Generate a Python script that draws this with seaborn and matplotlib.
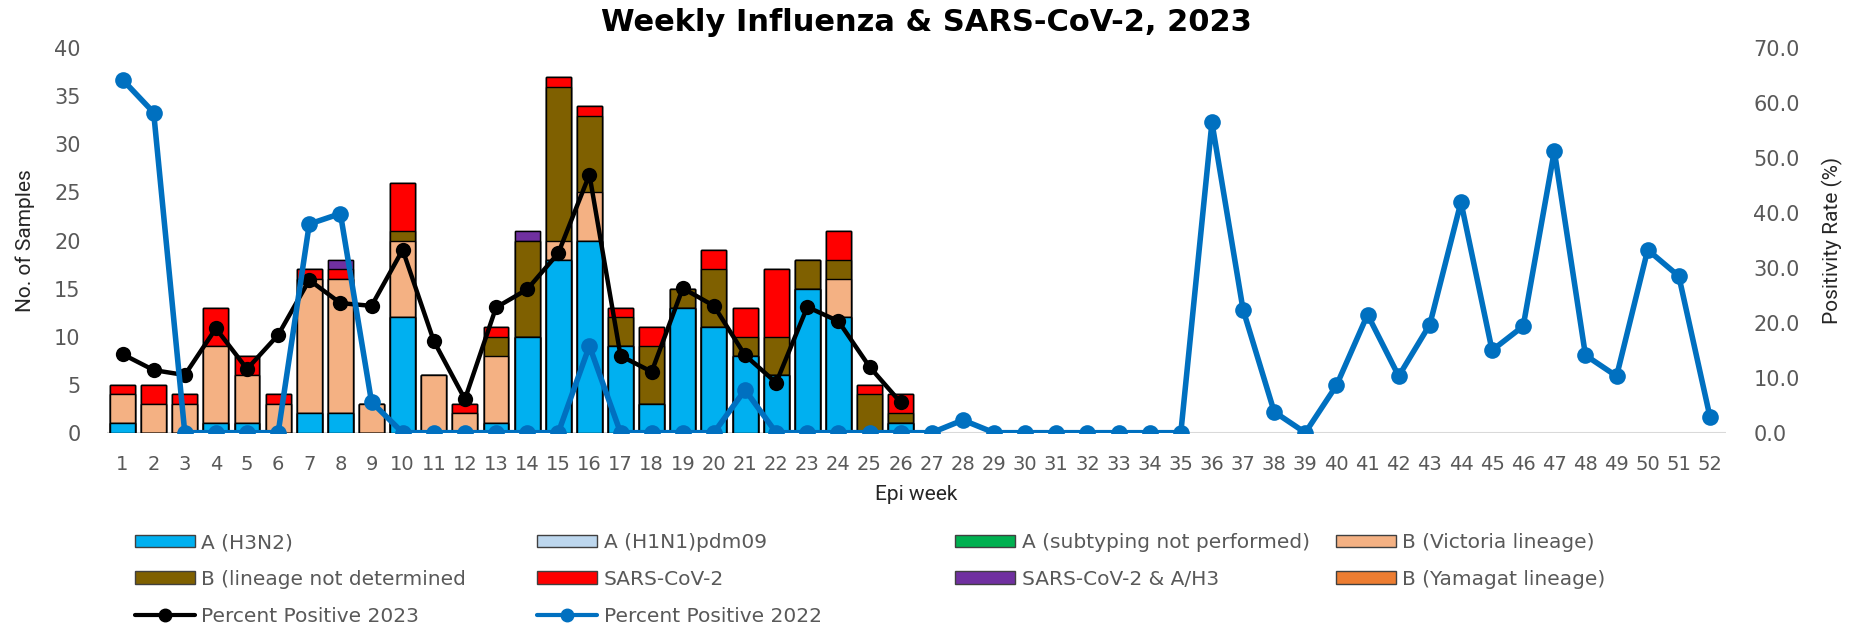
# Weekly influenza & SARS-CoV-2 surveillance, 2023 (stacked bars + positivity lines)
import matplotlib
matplotlib.use('Agg')
import matplotlib.pyplot as plt
from matplotlib.patches import Patch
from matplotlib.lines import Line2D
import pandas as pd
import numpy as np
import seaborn as sns

# epi weeks
weeks = list(range(1, 53))
bar_weeks = list(range(1, 27))

# samples per week (weeks 1-26), bottom to top of the stack
h3n2     = [1, 0, 0, 1, 1, 0, 2, 2, 0, 12, 0, 0, 1, 10, 18, 20, 9, 3, 13, 11, 8, 6, 15, 12, 0, 1]
h1n1     = [0] * 26
a_nosub  = [0] * 26
victoria = [3, 3, 3, 8, 5, 3, 14, 14, 3, 8, 6, 2, 7, 0, 2, 5, 0, 0, 0, 0, 0, 0, 0, 4, 0, 0]
b_undet  = [0, 0, 0, 0, 0, 0, 0, 0, 0, 1, 0, 0, 2, 10, 16, 8, 3, 6, 2, 6, 2, 4, 3, 2, 4, 1]
sars     = [1, 2, 1, 4, 2, 1, 1, 1, 0, 5, 0, 1, 1, 0, 1, 1, 1, 2, 0, 2, 3, 7, 0, 3, 1, 2]
sars_h3  = [0, 0, 0, 0, 0, 0, 0, 1, 0, 0, 0, 0, 0, 1, 0, 0, 0, 0, 0, 0, 0, 0, 0, 0, 0, 0]
yamagata = [0] * 26

# percent positive
pct_2023 = [14.3, 11.4, 10.5, 19.0, 11.6, 17.8, 27.8, 23.6, 23.1, 33.3, 16.7, 6.1, 22.8,
            26.1, 32.7, 47.0, 14.0, 11.1, 26.3, 23.1, 14.1, 9.1, 22.9, 20.3, 12.0, 5.5]
pct_2022 = [64.3, 58.3, 0, 0, 0, 0, 38.0, 39.9, 5.6, 0, 0, 0, 0, 0, 0, 15.8, 0, 0, 0, 0,
            7.8, 0, 0, 0, 0, 0, 0, 2.3, 0, 0, 0, 0, 0, 0, 0, 56.5, 22.4, 3.8, 0, 8.6,
            21.5, 10.3, 19.7, 42.0, 15.0, 19.4, 51.3, 14.1, 10.3, 33.3, 28.5, 2.9]

layers = [
    ('A (H3N2)', h3n2, '#00B0F0'),
    ('A (H1N1)pdm09', h1n1, '#BDD7EE'),
    ('A (subtyping not performed)', a_nosub, '#00B050'),
    ('B (Victoria lineage)', victoria, '#F4B183'),
    ('B (lineage not determined', b_undet, '#7F6000'),
    ('SARS-CoV-2', sars, '#FF0000'),
    ('SARS-CoV-2 & A/H3', sars_h3, '#7030A0'),
    ('B (Yamagat lineage)', yamagata, '#ED7D31'),
]
col_black = '#000000'
col_blue = '#0070C0'
gray = '#595959'

df = pd.DataFrame({'week': bar_weeks})
for name, vals, _ in layers:
    df[name] = vals
cum = df[[l[0] for l in layers]].cumsum(axis=1)

sns.set_style('white')
fig, ax = plt.subplots(figsize=(18.57, 6.35), dpi=100)
fig.subplots_adjust(left=0.0576, right=0.9292, bottom=0.3186, top=0.9239)

ax.axhline(0, color='#D9D9D9', lw=1.5, zorder=0.5)

# stacked bars: draw cumulative totals from the top layer down
for name, _, color in reversed(layers):
    sns.barplot(x=df['week'], y=cum[name], native_scale=True, color=color,
                saturation=1, width=0.8, edgecolor='black', linewidth=1,
                errorbar=None, ax=ax)

ax.set_xlim(0.5, 52.5)
ax.set_ylim(0, 40)
ax.set_xticks(weeks)
ax.set_xticklabels([str(w) for w in weeks])
ax.set_yticks(range(0, 41, 5))
ax.tick_params(axis='x', length=0, pad=16, labelsize=14, labelcolor=gray)
ax.tick_params(axis='y', length=0, pad=19, labelsize=15, labelcolor=gray)
ax.set_ylabel('No. of Samples', fontsize=15, family='Roboto', color='#262626')
ax.yaxis.set_label_coords(-0.0445, 0.5)
ax.set_xlabel('Epi week', fontsize=15, family='Roboto', color='#262626')
ax.xaxis.set_label_coords(0.5, -0.137)
for s in ax.spines.values():
    s.set_visible(False)

ax2 = ax.twinx()
sns.lineplot(x=bar_weeks, y=pct_2023, ax=ax2, color=col_black, lw=3.2,
             marker='o', markersize=11, markeredgewidth=0)
sns.lineplot(x=weeks, y=pct_2022, ax=ax2, color=col_blue, lw=4,
             marker='o', markersize=12, markeredgewidth=0)
ax2.set_ylim(0, 70)
ax2.set_yticks(range(0, 71, 10))
ax2.set_yticklabels([f'{v:.1f}' for v in range(0, 71, 10)])
ax2.tick_params(axis='y', length=0, pad=20, labelsize=15, labelcolor=gray)
ax2.set_ylabel('Positivity Rate (%)', fontsize=15, family='Roboto', color='#262626')
ax2.yaxis.set_label_coords(1.0596, 0.5)
for s in ax2.spines.values():
    s.set_visible(False)
ax.set_xlim(0.5, 52.5)

fig.text(0.4987, 0.9646, 'Weekly Influenza & SARS-CoV-2, 2023', ha='center', va='center',
         fontsize=22, fontweight='bold', color='black')

# legend: four columns placed like the original
patch = {name: Patch(facecolor=c, edgecolor='#404040', lw=1) for name, _, c in layers}
line23 = Line2D([], [], color=col_black, lw=3, marker='o', markersize=9)
line22 = Line2D([], [], color=col_blue, lw=3, marker='o', markersize=9)
columns = [
    (0.0727, [(patch['A (H3N2)'], 'A (H3N2)'),
              (patch['B (lineage not determined'], 'B (lineage not determined'),
              (line23, 'Percent Positive 2023')]),
    (0.2892, [(patch['A (H1N1)pdm09'], 'A (H1N1)pdm09'),
              (patch['SARS-CoV-2'], 'SARS-CoV-2'),
              (line22, 'Percent Positive 2022')]),
    (0.5143, [(patch['A (subtyping not performed)'], 'A (subtyping not performed)'),
              (patch['SARS-CoV-2 & A/H3'], 'SARS-CoV-2 & A/H3')]),
    (0.7194, [(patch['B (Victoria lineage)'], 'B (Victoria lineage)'),
              (patch['B (Yamagat lineage)'], 'B (Yamagat lineage)')]),
]
for xpos, items in columns:
    leg = fig.legend([h for h, _ in items], [t for _, t in items], loc='upper left',
                     bbox_to_anchor=(xpos, 0.1605), frameon=False, fontsize=14.5,
                     handlelength=3.0, handleheight=0.6, handletextpad=0.3,
                     labelspacing=0.88, borderpad=0, borderaxespad=0)
    for t in leg.get_texts():
        t.set_color(gray)

fig.savefig('out.png', dpi=100)
